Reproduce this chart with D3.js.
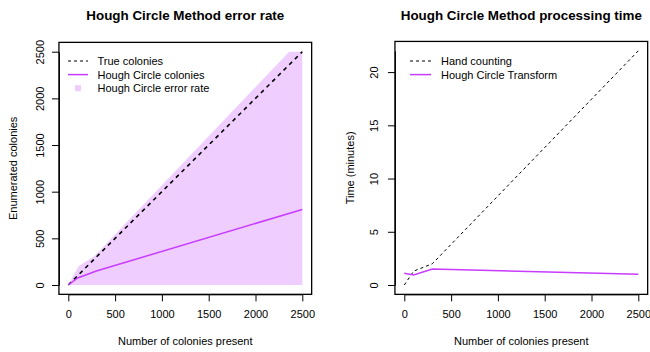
<!DOCTYPE html>
<html>
<head>
<meta charset="utf-8">
<script src="https://cdn.jsdelivr.net/npm/d3@7"></script>
<style>
  body { margin: 0; background: #fff; }
  svg { display: block; font-family: "Liberation Sans", Arial, Helvetica, sans-serif; }
  .axis text { font-size: 11px; fill: #000; }
  .axis path, .axis line { stroke: #000; stroke-width: 1; }
</style>
</head>
<body>
<svg id="chart" width="650" height="352"></svg>
<script>
// x positions (number of colonies present)
const colonies = [0, 100, 300, 2500];

// left panel: enumerated colonies
const trueColonies = [0, 100, 300, 2500];
const houghColonies = [0, 75, 150, 810];
// upper edge of the error band
const errX = [0, 110, 280, 2360, 2500];
const errUpper = [0, 200, 310, 2500, 2500];

// right panel: processing time (minutes)
const handTime = [0, 1.3, 2.0, 22];
const houghTime = [1.1, 0.95, 1.5, 1.0];

const xTicks = [0, 500, 1000, 1500, 2000, 2500];
const yTicksLeft = [0, 500, 1000, 1500, 2000, 2500];
const yTicksRight = [0, 5, 10, 15, 20];

const purple = "#C83CFF";
const lightPurple = "#EFCDFF";

const svg = d3.select("#chart");

// scales, R style (4% padding around data range)
const xL = d3.scaleLinear().domain([0, 2500]).range([68.3, 302.3]);
const yL = d3.scaleLinear().domain([0, 2500]).range([285, 51.7]);
const xR = d3.scaleLinear().domain([0, 2500]).range([404.3, 638.3]);
const yR = d3.scaleLinear().domain([0, 22]).range([285, 50.8]);

function drawFrame(x, y, xlo, xhi, ylo, yhi, xt, yt, title, xlab, ylab, ylabX, tickLabX) {
  const left = x(xlo), right = x(xhi), top = y(yhi), bottom = y(ylo);

  const gx = svg.append("g")
    .attr("class", "axis")
    .attr("transform", `translate(0,${bottom})`)
    .call(d3.axisBottom(x).tickValues(xt).tickSize(7).tickSizeOuter(0).tickPadding(9).tickFormat(d3.format("d")));

  const gy = svg.append("g")
    .attr("class", "axis")
    .attr("transform", `translate(${left},0)`)
    .call(d3.axisLeft(y).tickValues(yt).tickSize(7).tickSizeOuter(0).tickFormat(d3.format("d")));
  // R draws y labels parallel to the axis
  gy.selectAll(".tick text")
    .attr("x", null).attr("dy", null)
    .attr("text-anchor", "middle")
    .attr("transform", `translate(${-tickLabX},0) rotate(-90)`);

  svg.append("rect")
    .attr("x", left).attr("y", top)
    .attr("width", right - left).attr("height", bottom - top)
    .attr("fill", "none").attr("stroke", "#000").attr("stroke-width", 1.3);

  const cx = (left + right) / 2;
  svg.append("text")
    .attr("x", cx).attr("y", 19.5)
    .attr("text-anchor", "middle")
    .style("font-size", "13.4px").style("font-weight", "bold")
    .text(title);

  svg.append("text")
    .attr("x", cx).attr("y", 345)
    .attr("text-anchor", "middle")
    .style("font-size", "11px")
    .text(xlab);

  svg.append("text")
    .attr("transform", `translate(${ylabX},${(top + bottom) / 2}) rotate(-90)`)
    .attr("text-anchor", "middle")
    .style("font-size", "11px")
    .text(ylab);
}

// ---- left panel ----
const bandPts = errX.map((d, i) => [d, errUpper[i]])
  .concat([[2500, 0], [0, 0]]);
svg.append("path")
  .attr("d", d3.line().x(d => xL(d[0])).y(d => yL(d[1]))(bandPts) + "Z")
  .attr("fill", lightPurple);

svg.append("path")
  .datum(colonies)
  .attr("d", d3.line().x(d => xL(d)).y((d, i) => yL(trueColonies[i])))
  .attr("fill", "none").attr("stroke", "#000")
  .attr("stroke-width", 1.6).attr("stroke-dasharray", "4,4");

svg.append("path")
  .datum(colonies)
  .attr("d", d3.line().x(d => xL(d)).y((d, i) => yL(houghColonies[i])))
  .attr("fill", "none").attr("stroke", purple).attr("stroke-width", 1.5);

drawFrame(xL, yL, -100, 2600, -100, 2600, xTicks, yTicksLeft,
  "Hough Circle Method error rate", "Number of colonies present", "Enumerated colonies", 16.5, 15);

// left legend
const legL = [
  { label: "True colonies", type: "dash" },
  { label: "Hough Circle colonies", type: "line" },
  { label: "Hough Circle error rate", type: "box" }
];
legL.forEach((d, i) => {
  const yy = 61 + i * 13.6;
  if (d.type === "dash") {
    svg.append("line").attr("x1", 68).attr("x2", 88).attr("y1", yy).attr("y2", yy)
      .attr("stroke", "#000").attr("stroke-dasharray", "3,3");
  } else if (d.type === "line") {
    svg.append("line").attr("x1", 68).attr("x2", 88).attr("y1", yy).attr("y2", yy)
      .attr("stroke", purple).attr("stroke-width", 1.5);
  } else {
    svg.append("rect").attr("x", 75).attr("y", yy - 3).attr("width", 6).attr("height", 6)
      .attr("fill", lightPurple);
  }
  svg.append("text").attr("x", 97.5).attr("y", yy + 4)
    .style("font-size", "11px").text(d.label);
});

// ---- right panel ----
svg.append("path")
  .datum(colonies)
  .attr("d", d3.line().x(d => xR(d)).y((d, i) => yR(handTime[i])))
  .attr("fill", "none").attr("stroke", "#000")
  .attr("stroke-width", 1).attr("stroke-dasharray", "3,3");

svg.append("path")
  .datum(colonies)
  .attr("d", d3.line().x(d => xR(d)).y((d, i) => yR(houghTime[i])))
  .attr("fill", "none").attr("stroke", purple).attr("stroke-width", 1.5);

drawFrame(xR, yR, -100, 2600, -0.88, 22.88, xTicks, yTicksRight,
  "Hough Circle Method processing time", "Number of colonies present", "Time (minutes)", 353.5, 17);

const legR = [
  { label: "Hand counting", color: "#000", dash: "3,3", w: 1 },
  { label: "Hough Circle Transform", color: purple, dash: null, w: 1.5 }
];
legR.forEach((d, i) => {
  const yy = 61 + i * 13.6;
  svg.append("line").attr("x1", 410).attr("x2", 431).attr("y1", yy).attr("y2", yy)
    .attr("stroke", d.color).attr("stroke-width", d.w).attr("stroke-dasharray", d.dash);
  svg.append("text").attr("x", 441).attr("y", yy + 4)
    .style("font-size", "11px").text(d.label);
});
</script>
</body>
</html>
